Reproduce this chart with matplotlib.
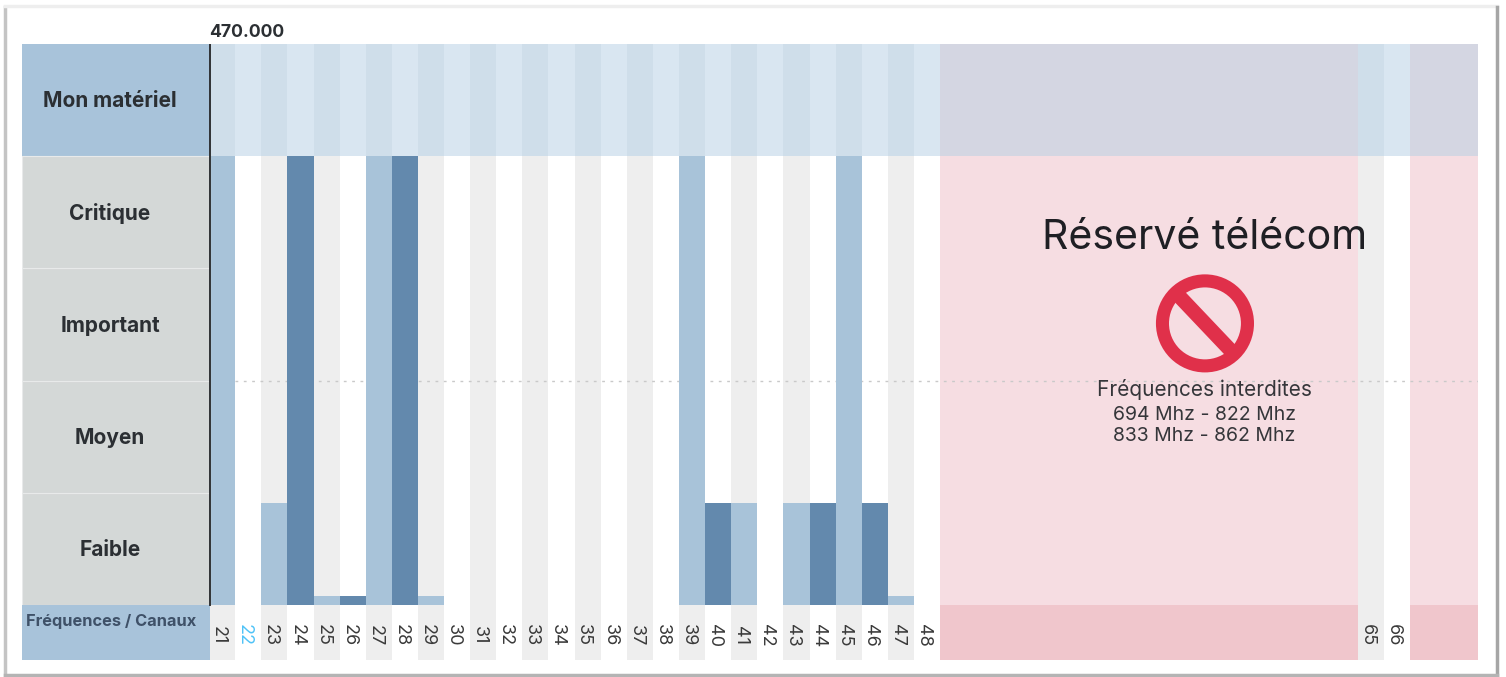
import numpy as np
import matplotlib.pyplot as plt
from matplotlib.lines import Line2D
from matplotlib.patches import Ellipse

plt.rcParams['font.family'] = ['Inter', 'DejaVu Sans']

# Channels and occupation level (0 = nothing, 4 = top of "Critique")
channels = list(range(21, 49)) + [65, 66]
light_channels = [21, 23, 25, 27, 29, 39, 41, 43, 45, 47]
light_levels = [4, 0.91, 0.08, 4, 0.08, 4, 0.91, 0.91, 4, 0.08]
dark_channels = [24, 26, 28, 40, 44, 46]
dark_levels = [4, 0.08, 4, 0.91, 0.91, 0.91]
level_names = ['Faible', 'Moyen', 'Important', 'Critique']
forbidden_ranges = [(48.5, 64.5), (66.5, 69.11)]
forbidden_lines = ['Fréquences interdites', '694 Mhz - 822 Mhz', '833 Mhz - 862 Mhz']

W, H = 1506, 677
fig = plt.figure(figsize=(W / 100, H / 100), dpi=100, facecolor='white')
ax = fig.add_axes([22 / W, 1 - 660 / H, 1456 / W, 616 / H])
xmin, xmax = 13.33, 69.11
ymin, ymax = -0.49, 5.0
ax.set_xlim(xmin, xmax)
ax.set_ylim(ymin, ymax)
ax.axis('off')

# Left column runs up to the axis line at 470.000
col_right = 20.53
col_mid = 16.7

# Stripes behind the bars
for c in channels:
    if c % 2 == 1:
        ax.bar(c, 4 - ymin, bottom=ymin, width=1, color='#eeeeee', zorder=1)
    head = '#cfdeea' if c % 2 == 1 else '#d9e6f1'
    ax.bar(c, 1, bottom=4, width=1, color=head, zorder=1)

# Forbidden telecom bands
for a, b in forbidden_ranges:
    ax.bar(a, 4, bottom=0, width=b - a, align='edge', color='#f6dde2', zorder=1)
    ax.bar(a, ymax - 4, bottom=4, width=b - a, align='edge', color='#d4d6e2', zorder=1)
    ax.bar(a, -ymin, bottom=ymin, width=b - a, align='edge', color='#f0c6cc', zorder=1)

ax.plot([21.5, xmax], [2, 2], color='#c9c9c9', lw=1, ls=(0, (2, 4)), zorder=2)

ax.bar(light_channels, light_levels, width=1, color='#a8c3d9', zorder=3)
ax.bar(dark_channels, dark_levels, width=1, color='#6389ad', zorder=3)

# Left column
ax.bar(xmin, 1, bottom=4, width=col_right - xmin, align='edge', color='#a8c3da', zorder=3)
ax.text(col_mid, 4.49, 'Mon matériel', ha='center', va='center',
        fontsize=15, fontweight='bold', color='#2b2f33', zorder=5)
for i, name in enumerate(level_names):
    ax.bar(xmin, 1, bottom=i, width=col_right - xmin, align='edge', color='#d4d8d7',
           edgecolor='#e8eaea', linewidth=0.8, zorder=3)
    ax.text(col_mid, i + 0.49, name, ha='center', va='center',
            fontsize=15, fontweight='bold', color='#2b2f33', zorder=5)
ax.bar(xmin, -ymin, bottom=ymin, width=col_right - xmin, align='edge', color='#a8c3da', zorder=3)
ax.text(xmin + 0.15, -0.145, 'Fréquences / Canaux', ha='left', va='center',
        fontsize=11.8, fontweight='bold', color='#3f5168', zorder=5)

ax.plot([col_right, col_right], [0, ymax], color='#2f3235', lw=1.4, zorder=4)
ax.text(col_right - 0.05, ymax + 0.105, '470.000', ha='left', va='center', fontsize=12.7,
        fontweight='bold', color='#2b2f33', clip_on=False)

# Channel numbers
for c in channels:
    col = '#4fc3f7' if c == 22 else '#3a3a3a'
    ax.text(c - 0.07, -0.27, str(c), rotation=270, rotation_mode='anchor', ha='center',
            va='center_baseline', fontsize=13, color=col, zorder=5)

# Forbidden label and sign
ax.text(58.62, 3.27, 'Réservé télécom', ha='center', va='center', fontsize=29.5,
        color='#1f1f24', zorder=5)
ring = Ellipse((58.65, 2.51), (98 - 13) / 26.1, (98 - 13) / 112.2, facecolor='none',
               edgecolor='#e0304a', lw=9.4, zorder=5)
ax.add_patch(ring)
ax.plot([57.63, 59.67], [2.76, 2.26], color='#e0304a', lw=10.5, solid_capstyle='butt', zorder=5)
for text, y, size in zip(forbidden_lines, [1.92, 1.69, 1.505], [15, 14, 14]):
    ax.text(58.62, y, text, ha='center', va='center', fontsize=size, color='#35363a', zorder=5)

# Card outline of the screenshot
card = [((5, 7), (5, 675), '#c4c4c4', 2.5), ((5, 6), (1497, 6), '#eeeeee', 2.5),
        ((1497, 7), (1497, 675), '#a6a6a6', 2.5), ((5, 675), (1497, 675), '#b4b4b4', 2.5)]
for p0, p1, col, lw in card:
    fig.add_artist(Line2D([p0[0] / W, p1[0] / W], [1 - p0[1] / H, 1 - p1[1] / H],
                          color=col, lw=lw))

plt.savefig('out.png', dpi=100)
